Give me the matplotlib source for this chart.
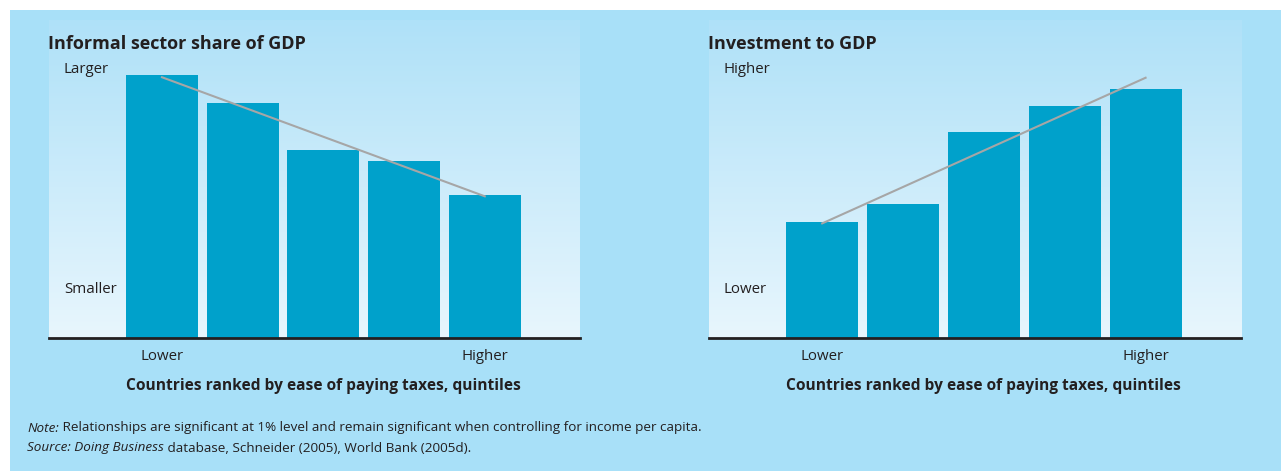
import matplotlib.pyplot as plt
import matplotlib as mpl
import numpy as np
from matplotlib.patches import Rectangle

mpl.rcParams['font.family'] = ['Liberation Sans Narrow', 'Open Sans', 'DejaVu Sans']

# data (relative heights)
quintiles = [1, 2, 3, 4, 5]
informal_share = [82.7, 73.9, 59.1, 55.7, 45.0]
investment_gdp = [36.5, 42.1, 64.8, 73.0, 78.3]
x_ticks = ['Lower', 'Higher']

text_col = '#231f20'
bar_col = '#00a1cb'
bg_col = '#a8e0f8'

W, H = 1281, 471
fig = plt.figure(figsize=(W / 100, H / 100), dpi=100, facecolor='white')
fig.patches.append(Rectangle((10 / W, 0), 1, 461 / H, transform=fig.transFigure,
                             facecolor=bg_col, edgecolor='none', zorder=-10))

XMIN, XMAX = -1.40, 5.18


def px_axes(x0, x1, ytop, ybot):
    return fig.add_axes([x0 / W, 1 - ybot / H, (x1 - x0) / W, (ybot - ytop) / H])


def panel(ax, values, title, top_lbl, bot_lbl):
    x = np.arange(len(values))
    ax.set_xlim(XMIN, XMAX)
    ax.set_ylim(0, 100)
    # gradient background
    grad = np.linspace(0, 1, 256).reshape(-1, 1)
    cmap = mpl.colors.LinearSegmentedColormap.from_list('g', ['#e8f6fd', '#afe1f8'])
    ax.imshow(grad, extent=[XMIN, XMAX, 0, 100], origin='lower', aspect='auto',
              cmap=cmap, zorder=0)
    ax.bar(x, values, width=0.89, color=bar_col, zorder=2)
    # linear trend
    k, b = np.polyfit(x, values, 1)
    ax.plot([0, 4], [b, b + 4 * k], color='#a6a6a6', lw=1.5, zorder=3)
    for s in ['top', 'right', 'left']:
        ax.spines[s].set_visible(False)
    ax.spines['bottom'].set_linewidth(2)
    ax.spines['bottom'].set_color(text_col)
    ax.spines['bottom'].set_zorder(4)
    ax.set_xticks([0, 4])
    ax.set_xticklabels(x_ticks, fontsize=10.8, color=text_col)
    ax.tick_params(axis='x', length=0, pad=8)
    ax.set_yticks([])
    ax.text(0.028, 0.843, top_lbl, transform=ax.transAxes, fontsize=10.8,
            color=text_col, va='center', ha='left')
    ax.text(0.028, 0.154, bot_lbl, transform=ax.transAxes, fontsize=10.8,
            color=text_col, va='center', ha='left')
    ax.text(-0.002, 0.925, title, transform=ax.transAxes, fontsize=13,
            fontweight='bold', color=text_col, va='center', ha='left')
    ax.set_xlabel('Countries ranked by ease of paying taxes, quintiles', fontsize=11.2,
                  fontweight='bold', color=text_col)
    # centred under the middle bar, not the panel
    ax.xaxis.set_label_coords((2 - XMIN) / (XMAX - XMIN), -0.125)


ax1 = px_axes(49, 580, 20, 338)
panel(ax1, informal_share, 'Informal sector share of GDP', 'Larger', 'Smaller')

ax2 = px_axes(709, 1241, 20, 338)
panel(ax2, investment_gdp, 'Investment to GDP', 'Higher', 'Lower')


def mixed_line(parts, x_px, y_px, size=9.7):
    # parts: list of (text, italic)
    fig.canvas.draw()
    r = fig.canvas.get_renderer()
    x = x_px
    for txt, ital in parts:
        t = fig.text(x / W, 1 - y_px / H, txt, fontsize=size, color=text_col,
                     va='center', ha='left', style='italic' if ital else 'normal')
        x += t.get_window_extent(r).width


mixed_line([('Note:', True),
            (' Relationships are significant at 1% level and remain significant when '
             'controlling for income per capita.', False)], 27, 428)
mixed_line([('Source: Doing Business', True),
            (' database, Schneider (2005), World Bank (2005d).', False)], 27, 448)

fig.savefig('out.png', dpi=100, facecolor='white')
